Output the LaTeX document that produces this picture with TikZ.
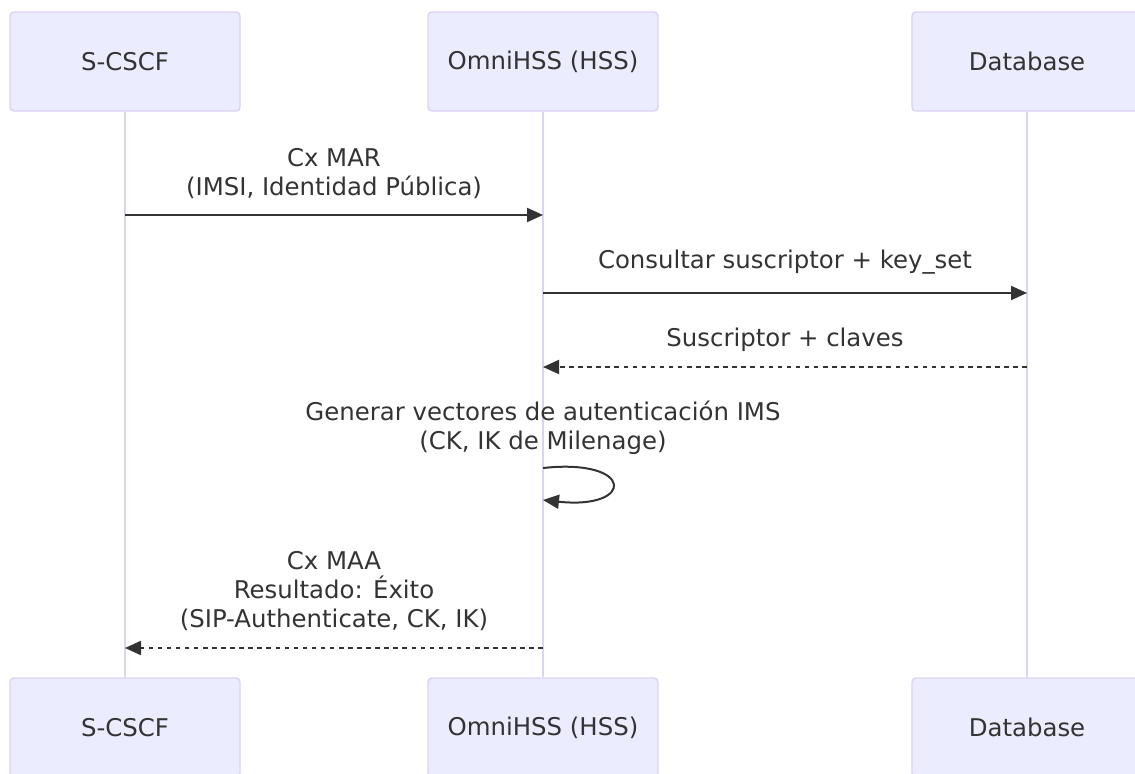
\documentclass[tikz,border=0pt]{standalone}
\usepackage{fontspec}
\setmainfont{DejaVu Sans}
\usetikzlibrary{arrows.meta}
\definecolor{actorfill}{HTML}{ECECFF}
\definecolor{actorline}{HTML}{DCD2F4}
\definecolor{msgline}{HTML}{333333}

\begin{document}
\begin{tikzpicture}[x=0.75pt,y=-0.75pt,
    actor/.style={rectangle, draw=actorline, fill=actorfill, line width=1.1pt,
        rounded corners=3pt, minimum width=172.5pt, minimum height=74.25pt,
        text=msgline, font=\fontsize{18.3}{22}\selectfont},
    label/.style={text=msgline, align=center, inner sep=0pt,
        font=\fontsize{18.3}{21.75}\selectfont},
    lifeline/.style={draw=actorline, line width=2pt},
    msg/.style={draw=msgline, line width=1.5pt, -{Triangle[length=12pt,width=10.5pt]}},
    reply/.style={msg, dash pattern=on 3.4pt off 3.4pt}]
                        \clip (0,0) rectangle (1135,774);
                        % Nodes
                        \node[actor] (scscf) at (125,61.5) {S-CSCF};
                        \node[actor] (hss) at (543,61.5) {OmniHSS (HSS)};
                        \node[actor] (db) at (1027,61.5) {Database};
                        \node[actor] (scscfB) at (125,727.5) {S-CSCF};
                        \node[actor] (hssB) at (543,727.5) {OmniHSS (HSS)};
                        \node[actor] (dbB) at (1027,727.5) {Database};

                        % Lifelines
                        \draw[lifeline] (scscf) -- (scscfB);
                        \draw[lifeline] (hss) -- (hssB);
                        \draw[lifeline] (db) -- (dbB);

                        % Points on the lifelines
                        \coordinate (scscf-mar) at (125,215);
                        \coordinate (hss-mar) at (543,215);
                        \coordinate (hss-query) at (543,293);
                        \coordinate (db-query) at (1027,293);
                        \coordinate (db-keys) at (1027,367);
                        \coordinate (hss-keys) at (543,367);
                        \coordinate (hss-gen) at (543,468);
                        \coordinate (hss-genend) at (543,500);
                        \coordinate (hss-maa) at (543,648);
                        \coordinate (scscf-maa) at (125,648);

                        % Labels
                        \node[label] (marlabel) at (334,174) {Cx MAR\\(IMSI, Identidad Pública)};
                        \node[label] (querylabel) at (785,262) {Consultar suscriptor + key\_set};
                        \node[label] (keyslabel) at (785,340) {Suscriptor + claves};
                        \node[label] (genlabel) at (543,428) {Generar vectores de autenticación IMS\\(CK, IK de Milenage)};
                        \node[label] (maalabel) at (334,591) {Cx MAA\\Resultado: Éxito\\(SIP-Authenticate, CK, IK)};

                        % Edges
                        \draw[msg] (scscf-mar) -- (hss-mar);
                        \draw[msg] (hss-query) -- (db-query);
                        \draw[reply] (db-keys) -- (hss-keys);
                        \draw[msg] (hss-gen) .. controls (635,458) and (635,510) .. (hss-genend);
                        \draw[reply] (hss-maa) -- (scscf-maa);
                    \end{tikzpicture}
\end{document}
